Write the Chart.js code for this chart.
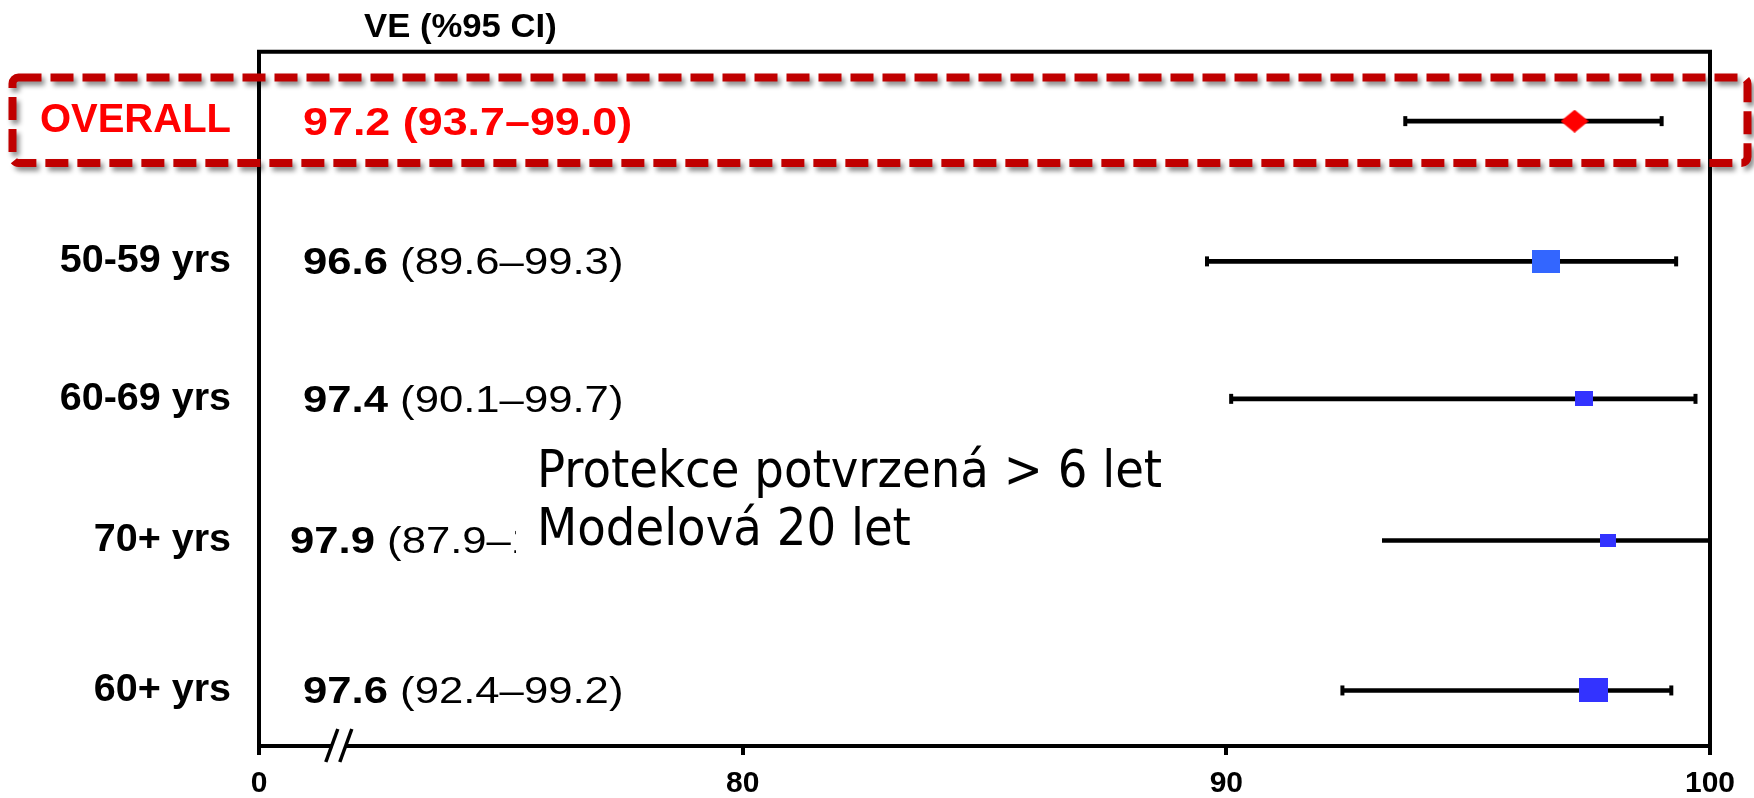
<!DOCTYPE html>
<html>
<head>
<meta charset="utf-8">
<script src="https://cdn.jsdelivr.net/npm/chart.js@4.4.1/dist/chart.umd.min.js"></script>
<style>
  html, body { margin: 0; padding: 0; background: #ffffff; }
  #wrap { width: 1754px; height: 798px; position: relative; }
</style>
</head>
<body>
<div id="wrap"><canvas id="forest" width="1754" height="798"></canvas></div>
<script>
// Vaccine efficacy (VE) with 95% confidence intervals, by age group
const groups = ['OVERALL', '50-59 yrs', '60-69 yrs', '70+ yrs', '60+ yrs'];
const ve = [97.2, 96.6, 97.4, 97.9, 97.6];
const ciLow = [93.7, 89.6, 90.1, 87.9, 92.4];
const ciHigh = [99.0, 99.3, 99.7, 100.0, 99.2];
const xTickValues = [70, 80, 90, 100];
const xTickLabels = ['0', '80', '90', '100'];
const headerText = 'VE (%95 CI)';
const noteLines = ['Protekce potvrzená > 6 let', 'Modelová 20 let'];

// ---- layout and styling ----
const FONT = '"Liberation Sans", Arial, Helvetica, sans-serif';
const NOTE_FONT = '"DejaVu Sans", Verdana, Tahoma, sans-serif';
const rowSlot = [1, 3.02, 5, 7.04, 9.2];            // row centres on a 0-10 band
const rowColor = ['#ff0000', '#000000', '#000000', '#000000', '#000000'];
const valueLabelX = [303, 303, 303, 290, 303];
const markerStyle = [
  { shape: 'diamond', w: 28, h: 23, color: '#ff0000' },
  { shape: 'square',  w: 28, h: 23, color: '#3366ff' },
  { shape: 'square',  w: 18, h: 15, color: '#3333ff' },
  { shape: 'square',  w: 16, h: 13, color: '#3333ff' },
  { shape: 'square',  w: 29, h: 24, color: '#3333ff' }
];
const AXIS_BREAK_AT = 71.65;

function markerCanvas(s) {
  const c = document.createElement('canvas');
  c.width = s.w; c.height = s.h;
  const g = c.getContext('2d');
  g.fillStyle = s.color;
  if (s.shape === 'diamond') {
    g.beginPath();
    g.moveTo(s.w / 2, 0);
    g.lineTo(s.w, s.h / 2);
    g.lineTo(s.w / 2, s.h);
    g.lineTo(0, s.h / 2);
    g.closePath();
    g.fill();
  } else {
    g.fillRect(0, 0, s.w, s.h);
  }
  return c;
}
const markerImages = markerStyle.map(markerCanvas);

const fmt = v => v.toFixed(1);

// text drawn with a horizontal stretch factor
function drawParts(ctx, parts, x, y, sx) {
  ctx.save();
  ctx.translate(x, y);
  ctx.scale(sx, 1);
  ctx.textBaseline = 'alphabetic';
  ctx.textAlign = 'left';
  let cx = 0;
  for (const p of parts) {
    ctx.font = p.font;
    ctx.fillStyle = p.color;
    ctx.fillText(p.text, cx, 0);
    cx += ctx.measureText(p.text).width;
  }
  ctx.restore();
}

const overlayPlugin = {
  id: 'forestOverlay',
  afterDraw(chart) {
    const ctx = chart.ctx;
    const { left, right, top, bottom } = chart.chartArea;
    const xs = chart.scales.x;
    const ys = chart.scales.y;
    ctx.save();

    // top and right frame lines
    ctx.strokeStyle = '#000';
    ctx.lineWidth = 4;
    ctx.lineCap = 'square';
    ctx.beginPath();
    ctx.moveTo(left, top);
    ctx.lineTo(right, top);
    ctx.lineTo(right, bottom);
    ctx.stroke();

    // column header
    drawParts(ctx, [{ text: headerText, font: `bold 34px ${FONT}`, color: '#000' }], 364, 37, 1.02);

    // VE (CI) text for each row
    groups.forEach((g, i) => {
      const y = ys.getPixelForValue(rowSlot[i]);
      const ci = `(${fmt(ciLow[i])}\u2013${fmt(ciHigh[i])})`;
      if (i === 0) {
        drawParts(ctx, [{ text: `${fmt(ve[i])} ${ci}`, font: `bold 39px ${FONT}`, color: rowColor[i] }],
          valueLabelX[i], y + 14, 1.15);
      } else {
        drawParts(ctx, [
          { text: fmt(ve[i]), font: `bold 37px ${FONT}`, color: rowColor[i] },
          { text: ` ${ci}`, font: `37px ${FONT}`, color: rowColor[i] }
        ], valueLabelX[i], y + 13, 1.18);
      }
    });

    // axis break marks on the x axis
    const bx = xs.getPixelForValue(AXIS_BREAK_AT);
    ctx.fillStyle = '#fff';
    ctx.fillRect(bx - 7, bottom - 4, 14, 8);
    ctx.strokeStyle = '#000';
    ctx.lineWidth = 3.5;
    ctx.lineCap = 'butt';
    for (const dx of [-7, 7]) {
      ctx.beginPath();
      ctx.moveTo(bx + dx - 6, bottom + 16);
      ctx.lineTo(bx + dx + 6, bottom - 17);
      ctx.stroke();
    }

    // note box
    ctx.fillStyle = '#fff';
    ctx.fillRect(516, 440, 866, 125);
    noteLines.forEach((t, k) => {
      drawParts(ctx, [{ text: t, font: `51px ${NOTE_FONT}`, color: '#000' }], 537, 487 + k * 58, 0.915);
    });

    // dashed highlight around the overall row
    ctx.save();
    ctx.shadowColor = 'rgba(0,0,0,0.45)';
    ctx.shadowBlur = 5;
    ctx.shadowOffsetX = 3;
    ctx.shadowOffsetY = 4;
    ctx.strokeStyle = '#c00000';
    ctx.lineWidth = 8;
    ctx.setLineDash([23, 9]);
    ctx.lineJoin = 'round';
    ctx.beginPath();
    ctx.roundRect(12.5, 77.5, 1735, 85.5, 6);
    ctx.stroke();
    ctx.restore();

    ctx.restore();
  }
};

const capPoints = [];
groups.forEach((g, i) => {
  capPoints.push({ x: ciLow[i], y: rowSlot[i] });
  capPoints.push({ x: ciHigh[i], y: rowSlot[i] });
});

new Chart(document.getElementById('forest'), {
  type: 'scatter',
  data: {
    datasets: [
      {
        // point estimates
        data: groups.map((g, i) => ({ x: ve[i], y: rowSlot[i] })),
        pointStyle: markerImages,
        pointRadius: 10,
        clip: false,
        order: 0
      },
      {
        // whisker end caps
        data: capPoints,
        pointStyle: 'line',
        rotation: 90,
        pointRadius: 5,
        borderWidth: 4,
        borderColor: '#000',
        backgroundColor: '#000',
        clip: false,
        order: 1
      },
      {
        // confidence interval whiskers
        type: 'bar',
        indexAxis: 'y',
        data: groups.map((g, i) => ({ y: rowSlot[i], x: [ciLow[i], ciHigh[i]] })),
        backgroundColor: '#000',
        borderWidth: 0,
        barThickness: 4,
        clip: false,
        order: 2
      }
    ]
  },
  options: {
    responsive: false,
    animation: false,
    devicePixelRatio: 1,
    events: [],
    layout: { padding: { top: 50, right: 44, left: 0, bottom: 0 } },
    plugins: { legend: { display: false }, tooltip: { enabled: false }, title: { display: false } },
    scales: {
      x: {
        type: 'linear',
        position: 'bottom',
        min: 70,
        max: 100,
        offset: false,
        beginAtZero: false,
        afterBuildTicks: s => { s.ticks = xTickValues.map(v => ({ value: v })); },
        afterFit: s => { s.height = 52; },
        ticks: {
          autoSkip: false,
          maxRotation: 0,
          padding: 11,
          color: '#000',
          font: { family: FONT, size: 30, weight: 'bold' },
          callback: (v, i) => xTickLabels[i]
        },
        grid: { drawOnChartArea: false, drawTicks: true, tickLength: 9, color: '#000', lineWidth: 4, offset: false },
        border: { display: true, color: '#000', width: 4 }
      },
      y: {
        type: 'linear',
        position: 'left',
        min: 0,
        max: 10,
        reverse: true,
        offset: false,
        beginAtZero: false,
        afterBuildTicks: s => { s.ticks = rowSlot.map(v => ({ value: v })); },
        afterFit: s => { s.width = 259; },
        ticks: {
          autoSkip: false,
          padding: 28,
          color: c => rowColor[c.index] || '#000',
          font: c => ({ family: FONT, size: c.index === 0 ? 40 : 39.5, weight: 'bold' }),
          callback: (v, i) => groups[i]
        },
        grid: { drawOnChartArea: false, drawTicks: false, offset: false },
        border: { display: true, color: '#000', width: 4 }
      }
    }
  },
  plugins: [overlayPlugin]
});
</script>
</body>
</html>
